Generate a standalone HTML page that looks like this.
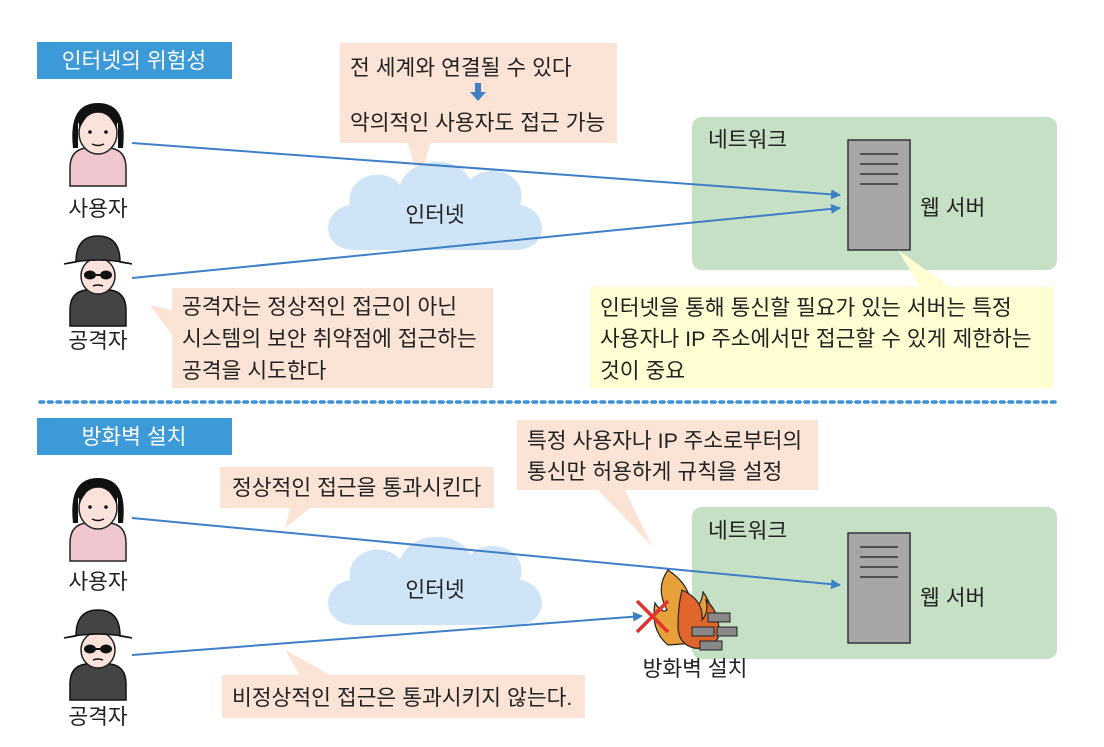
<!DOCTYPE html>
<html><head><meta charset="utf-8"><style>
body{margin:0;background:#fff}
svg text{font-family:"Liberation Sans","Noto Sans CJK KR",sans-serif;font-size:21.5px;fill:#222}
</style></head><body>
<svg width="1104" height="742" viewBox="0 0 1104 742" xmlns="http://www.w3.org/2000/svg">
<defs>
<marker id="ah" markerWidth="10" markerHeight="10" refX="9" refY="5" orient="auto" markerUnits="userSpaceOnUse"><path d="M0,0 L10,5 L0,10 z" fill="#3f7fc6"/></marker>
<g id="cloud"><path d="M-80,35 C-115,35 -115,-5 -85,-10 C-90,-40 -50,-50 -35,-30 C-25,-60 25,-60 35,-35 C55,-55 95,-40 85,-10 C115,-5 115,35 80,35 Z" fill="#cfe4f6"/></g>
<g id="user">
<path d="M-28,30 Q-28,12 -12,10 L12,10 Q28,12 28,30 L28,48 L-28,48 Z" fill="#f0c7cf" stroke="#222" stroke-width="1.5"/>
<path d="M-25,10 Q-30,-35 0,-35 Q30,-35 25,10 L20,10 L20,-15 L-20,-15 L-20,10 Z" fill="#111"/>
<ellipse cx="0" cy="-5" rx="19" ry="21" fill="#fbe3dc" stroke="#222" stroke-width="1.5"/>
<path d="M-19,-8 Q-10,-28 0,-26 Q10,-28 19,-8 L19,-22 Q0,-40 -19,-22Z" fill="#111"/>
<circle cx="-8" cy="-6" r="1.8" fill="#111"/><circle cx="8" cy="-6" r="1.8" fill="#111"/>
<path d="M-6,6 Q0,9 6,6" stroke="#111" fill="none" stroke-width="1.5"/>
</g>
<g id="atk">
<path d="M-28,32 Q-28,14 -12,12 L12,12 Q28,14 28,32 L28,48 L-28,48 Z" fill="#444" stroke="#111" stroke-width="1.5"/>
<ellipse cx="0" cy="-2" rx="17" ry="18" fill="#fbe3dc" stroke="#222" stroke-width="1.5"/>
<path d="M-34,-14 Q0,-22 34,-14 L22,-16 Q22,-42 0,-42 Q-22,-42 -22,-16Z" fill="#444" stroke="#111" stroke-width="1.5"/>
<ellipse cx="-8" cy="-3" rx="6" ry="4.5" fill="#111"/><ellipse cx="8" cy="-3" rx="6" ry="4.5" fill="#111"/>
<line x1="-2" y1="-3" x2="2" y2="-3" stroke="#111" stroke-width="2"/>
<path d="M-5,8 Q0,6 5,8" stroke="#111" fill="none" stroke-width="1.5"/>
</g>
<g id="srv">
<rect x="0" y="0" width="62" height="110" fill="#a6a6a6" stroke="#333" stroke-width="1.5"/>
<g stroke="#333" stroke-width="1.5"><line x1="12" y1="14" x2="50" y2="14"/><line x1="12" y1="24" x2="50" y2="24"/><line x1="12" y1="34" x2="50" y2="34"/><line x1="12" y1="44" x2="50" y2="44"/></g>
</g>
</defs>

<rect x="37" y="42" width="195" height="37" fill="#3d9ad8"/>
<text x="134" y="68" text-anchor="middle" style="fill:#fff">인터넷의 위험성</text>

<path d="M340,43 H617 V143 H430 L420,186 L408,143 H340 Z" fill="#fbe4d6"/>
<text x="350" y="75">전 세계와 연결될 수 있다</text>
<path d="M475,83 h6 v9 h5 l-8,9 l-8,-9 h5z" fill="#3f7fc6"/>
<text x="350" y="130">악의적인 사용자도 접근 가능</text>

<use href="#cloud" x="435" y="215"/>
<text x="435" y="222" text-anchor="middle">인터넷</text>

<rect x="692" y="117" width="365" height="153" rx="10" fill="#c5e0c4"/>
<text x="708" y="147">네트워크</text>
<use href="#srv" x="848" y="140"/>
<text x="920" y="215">웹 서버</text>

<use href="#user" x="98" y="138"/>
<text x="98" y="216" text-anchor="middle">사용자</text>
<use href="#atk" x="98" y="278"/>
<text x="98" y="348" text-anchor="middle">공격자</text>

<path d="M172,288 H493 V388 H172 V335 L150,305 L172,310 Z" fill="#fbe4d6"/>
<text x="182" y="314">공격자는 정상적인 접근이 아닌</text>
<text x="182" y="346">시스템의 보안 취약점에 접근하는</text>
<text x="182" y="378">공격을 시도한다</text>

<path d="M590,287 H920 L898,250 L950,287 H1053 V388 H590 Z" fill="#fefed2"/>
<text x="600" y="315">인터넷을 통해 통신할 필요가 있는 서버는 특정</text>
<text x="600" y="346">사용자나 IP 주소에서만 접근할 수 있게 제한하는</text>
<text x="600" y="378">것이 중요</text>

<line x1="132" y1="143" x2="840" y2="195" stroke="#3f7fc6" stroke-width="2" marker-end="url(#ah)"/>
<line x1="132" y1="278" x2="840" y2="208" stroke="#3f7fc6" stroke-width="2" marker-end="url(#ah)"/>

<line x1="40" y1="402" x2="1060" y2="402" stroke="#3d8fd6" stroke-width="3.5" stroke-dasharray="3.5,5" stroke-linecap="round"/>

<rect x="37" y="418" width="195" height="37" fill="#3d9ad8"/>
<text x="134" y="444" text-anchor="middle" style="fill:#fff">방화벽 설치</text>

<path d="M517,420 H818 V490 H625 L652,546 L598,490 H517 Z" fill="#fbe4d6"/>
<text x="527" y="448">특정 사용자나 IP 주소로부터의</text>
<text x="527" y="479">통신만 허용하게 규칙을 설정</text>

<path d="M220,467 H494 V508 H310 L285,528 L290,508 H220 Z" fill="#fbe4d6"/>
<text x="232" y="495">정상적인 접근을 통과시킨다</text>

<use href="#cloud" x="435" y="590"/>
<text x="435" y="597" text-anchor="middle">인터넷</text>

<rect x="692" y="507" width="365" height="152" rx="10" fill="#c5e0c4"/>
<text x="708" y="538">네트워크</text>
<use href="#srv" x="848" y="533"/>
<text x="920" y="605">웹 서버</text>

<use href="#user" x="98" y="513"/>
<text x="98" y="589" text-anchor="middle">사용자</text>
<use href="#atk" x="98" y="652"/>
<text x="98" y="724" text-anchor="middle">공격자</text>

<path d="M222,675 H300 L285,650 L330,675 H585 V718 H222 Z" fill="#fbe4d6"/>
<text x="232" y="705">비정상적인 접근은 통과시키지 않는다.</text>

<line x1="132" y1="518" x2="840" y2="585" stroke="#3f7fc6" stroke-width="2" marker-end="url(#ah)"/>
<line x1="132" y1="655" x2="642" y2="616" stroke="#3f7fc6" stroke-width="2" marker-end="url(#ah)"/>

<path d="M668,570 Q695,588 690,615 Q702,605 703,592 Q718,612 710,642 L668,645 Q650,630 655,603 Q662,614 667,610 Q655,588 668,570Z" fill="#e8a13a" stroke="#222" stroke-width="1.2"/>
<path d="M682,590 Q704,600 702,620 Q709,612 706,600 Q722,615 718,638 Q710,650 694,648 Q678,644 678,626 Q678,606 682,590Z" fill="#e0652b" stroke="#222" stroke-width="1.2"/>
<g fill="#888" stroke="#222" stroke-width="1"><rect x="708" y="613" width="22" height="9"/><rect x="692" y="627" width="22" height="9"/><rect x="717" y="627" width="20" height="9"/><rect x="700" y="641" width="22" height="9"/></g>
<g stroke="#e0322f" stroke-width="3.5"><line x1="637" y1="601" x2="668" y2="632"/><line x1="668" y1="601" x2="637" y2="632"/></g>
<text x="695" y="676" text-anchor="middle">방화벽 설치</text>
</svg>
</body></html>
